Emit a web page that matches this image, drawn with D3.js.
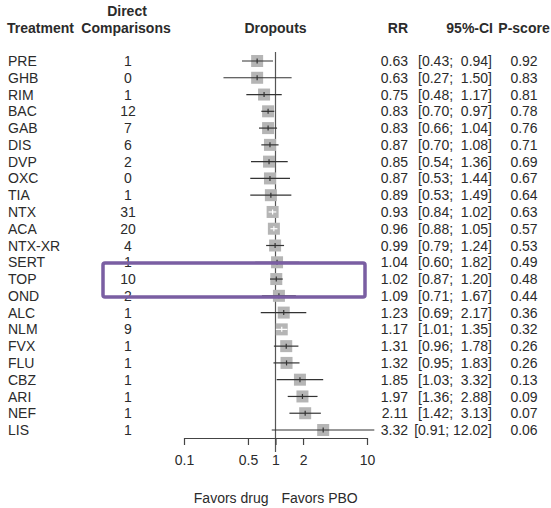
<!DOCTYPE html>
<html>
<head>
<meta charset="utf-8">
<script src="https://cdn.jsdelivr.net/npm/d3@7"></script>
<style>
  body { margin: 0; background: #fff; }
  text { font-family: "Liberation Sans", Arial, sans-serif; fill: #2b2b2b; white-space: pre; }
</style>
</head>
<body>
<div id="chart"></div>
<script>
// Network meta-analysis, dropouts, relative risk vs placebo
var treatments = ['PRE', 'GHB', 'RIM', 'BAC', 'GAB', 'DIS', 'DVP', 'OXC', 'TIA', 'NTX', 'ACA', 'NTX-XR',
    'SERT', 'TOP', 'OND', 'ALC', 'NLM', 'FVX', 'FLU', 'CBZ', 'ARI', 'NEF', 'LIS'];
var comparisons = [1, 0, 1, 12, 7, 6, 2, 0, 1, 31, 20, 4, 1, 10, 2, 1, 9, 1, 1, 1, 1, 1, 1];
var rr = [0.63, 0.63, 0.75, 0.83, 0.83, 0.87, 0.85, 0.87, 0.89, 0.93, 0.96, 0.99,
    1.04, 1.02, 1.09, 1.23, 1.17, 1.31, 1.32, 1.85, 1.97, 2.11, 3.32];
var lower = [0.43, 0.27, 0.48, 0.70, 0.66, 0.70, 0.54, 0.53, 0.53, 0.84, 0.88, 0.79,
    0.60, 0.87, 0.71, 0.69, 1.01, 0.96, 0.95, 1.03, 1.36, 1.42, 0.91];
var upper = [0.94, 1.50, 1.17, 0.97, 1.04, 1.08, 1.36, 1.44, 1.49, 1.02, 1.05, 1.24,
    1.82, 1.20, 1.67, 2.17, 1.35, 1.78, 1.83, 3.32, 2.88, 3.13, 12.02];
var pscore = [0.92, 0.83, 0.81, 0.78, 0.76, 0.71, 0.69, 0.67, 0.64, 0.63, 0.57, 0.53,
    0.49, 0.48, 0.44, 0.36, 0.32, 0.26, 0.26, 0.13, 0.09, 0.07, 0.06];
var tickValues = [0.1, 0.5, 1, 2, 10];
var highlight = 'TOP';

var width = 551, height = 508;
var boxSize = 12;
var fontSize = '14px';

var rows = treatments.map(function(t, i) {
    return {name: t, n: comparisons[i], rr: rr[i], lo: lower[i], hi: upper[i], p: pscore[i]};
});

var svg = d3.select('#chart').append('svg').attr('width', width).attr('height', height);

var x = d3.scaleLog().domain([0.1, 10]).range([184, 367]);
var y = d3.scalePoint().domain(treatments).range([61, 430]);

// Headers
var head = svg.append('g').style('font-weight', 'bold').style('font-size', fontSize);
head.append('text').attr('x', 127).attr('y', 16).attr('text-anchor', 'middle').text('Direct');
head.append('text').attr('x', 7).attr('y', 33).text('Treatment');
head.append('text').attr('x', 126).attr('y', 33).attr('text-anchor', 'middle').text('Comparisons');
head.append('text').attr('x', x(1)).attr('y', 33).attr('text-anchor', 'middle').text('Dropouts');
head.append('text').attr('x', 408).attr('y', 33).attr('text-anchor', 'end').text('RR');
head.append('text').attr('x', 493).attr('y', 33).attr('text-anchor', 'end').text('95%-CI');
head.append('text').attr('x', 524).attr('y', 33).attr('text-anchor', 'middle').text('P-score');

// Table columns
var tbl = svg.append('g').style('font-size', fontSize);
var row = tbl.selectAll('.row').data(rows).enter().append('g')
    .attr('class', 'row')
    .attr('transform', function(d) { return 'translate(0,' + y(d.name) + ')'; });
row.append('text').attr('x', 8).attr('dy', '0.36em').text(function(d) { return d.name; });
row.append('text').attr('x', 128).attr('dy', '0.36em').attr('text-anchor', 'middle')
    .text(function(d) { return d.n; });
row.append('text').attr('x', 408).attr('dy', '0.36em').attr('text-anchor', 'end')
    .text(function(d) { return d.rr.toFixed(2); });
row.append('text').attr('x', 492).attr('dy', '0.36em').attr('text-anchor', 'end')
    .text(function(d) {
        var hi = d.hi.toFixed(2);
        return '[' + d.lo.toFixed(2) + ';' + (hi.length < 5 ? '  ' : ' ') + hi + ']';
    });
row.append('text').attr('x', 524).attr('dy', '0.36em').attr('text-anchor', 'middle')
    .text(function(d) { return d.p.toFixed(2); });

// Reference line at RR = 1
svg.append('line')
    .attr('x1', x(1)).attr('x2', x(1))
    .attr('y1', 52).attr('y2', 452)
    .attr('stroke', '#555').attr('stroke-width', 1.2);

// Boxes and confidence intervals
var fp = svg.append('g');
var mark = fp.selectAll('.est').data(rows).enter().append('g')
    .attr('class', 'est')
    .attr('transform', function(d) { return 'translate(0,' + y(d.name) + ')'; });

mark.append('rect')
    .attr('x', function(d) { return x(d.rr) - boxSize / 2; })
    .attr('y', -boxSize / 2)
    .attr('width', boxSize).attr('height', boxSize)
    .attr('fill', '#b5b5b5');

// CI drawn white when it lies inside the box (as meta::forest does)
function inside(d) {
    return x(d.lo) >= x(d.rr) - boxSize / 2 && x(d.hi) <= x(d.rr) + boxSize / 2;
}
mark.append('line')
    .attr('x1', function(d) { return x(d.lo); })
    .attr('x2', function(d) { return x(d.hi); })
    .attr('stroke', function(d) { return inside(d) ? '#fff' : '#333'; })
    .attr('stroke-width', 1.2);
mark.append('line')
    .attr('x1', function(d) { return x(d.rr); })
    .attr('x2', function(d) { return x(d.rr); })
    .attr('y1', -2.5).attr('y2', 2.5)
    .attr('stroke', function(d) { return inside(d) ? '#fff' : '#333'; })
    .attr('stroke-width', 1.2);

// Axis
var axis = svg.append('g')
    .attr('transform', 'translate(0,438)')
    .call(d3.axisBottom(x).tickValues(tickValues).tickSize(7).tickSizeOuter(0)
        .tickFormat(function(d) { return String(d); }));
axis.select('.domain').attr('stroke', '#444').attr('stroke-width', 1.2);
axis.selectAll('.tick line').attr('stroke', '#444').attr('stroke-width', 1.2);
axis.selectAll('.tick text')
    .style('font-family', '"Liberation Sans", Arial, sans-serif')
    .style('font-size', fontSize).attr('fill', '#2b2b2b').attr('dy', '1.2em');

svg.append('text').attr('x', x(1) - 7).attr('y', 503).attr('text-anchor', 'end')
    .style('font-size', fontSize).text('Favors drug');
svg.append('text').attr('x', x(1) + 6).attr('y', 503)
    .style('font-size', fontSize).text('Favors PBO');

// Highlight box around the selected row
svg.append('rect')
    .attr('x', 103).attr('y', y(highlight) - 16)
    .attr('width', 262).attr('height', 34)
    .attr('rx', 2)
    .attr('fill', 'none')
    .attr('stroke', '#7a5ea2')
    .attr('stroke-width', 3.5);
</script>
</body>
</html>
